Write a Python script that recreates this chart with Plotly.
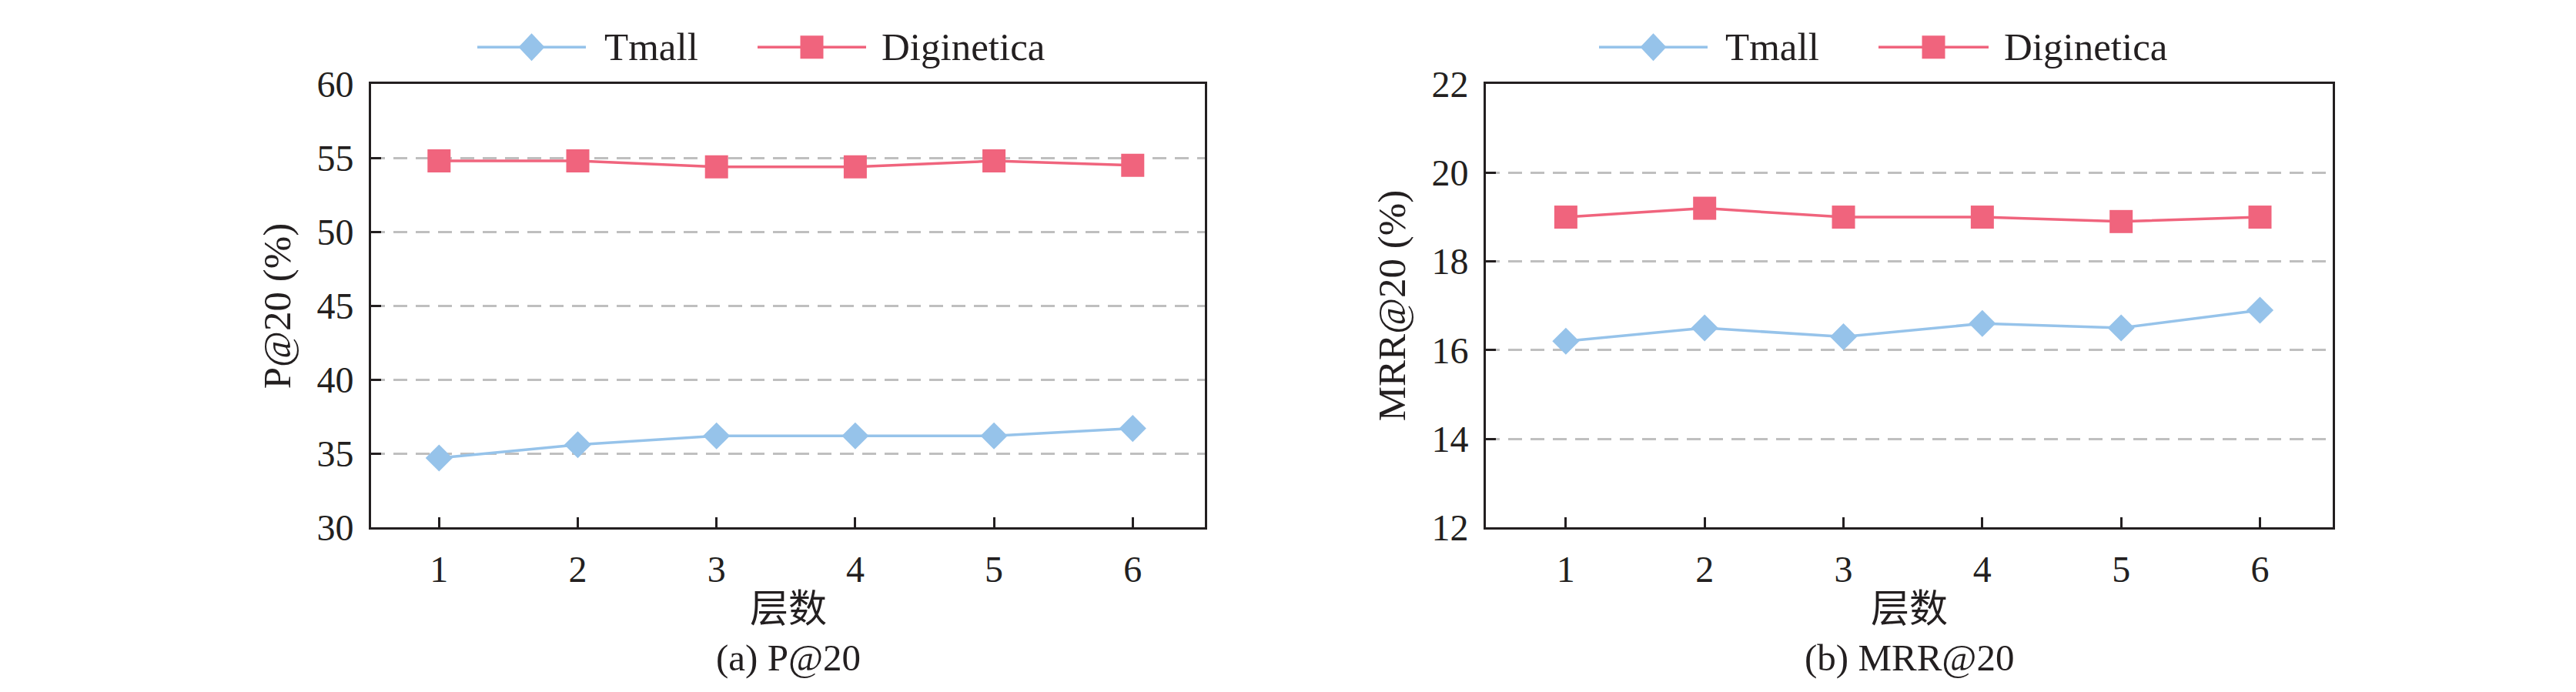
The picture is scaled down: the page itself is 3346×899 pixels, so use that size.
import plotly.graph_objects as go
from plotly.subplots import make_subplots

# layer counts on the x axis
layers = [1, 2, 3, 4, 5, 6]

# P@20 (%) per dataset
p20_tmall = [34.7, 35.6, 36.2, 36.2, 36.2, 36.7]
p20_digi = [54.8, 54.8, 54.4, 54.4, 54.8, 54.5]

# MRR@20 (%) per dataset
mrr20_tmall = [16.2, 16.5, 16.3, 16.6, 16.5, 16.9]
mrr20_digi = [19.0, 19.2, 19.0, 19.0, 18.9, 19.0]

W, H = 3346, 899
BLUE = '#96C3EA'
RED = '#F0647D'
INK = '#231F20'
SERIF = 'Liberation Serif, Times New Roman, serif'
CJK = 'Liberation Serif, Noto Sans CJK SC, serif'

fig = make_subplots(rows=1, cols=2)

panels = [
    (1, p20_tmall, p20_digi),
    (2, mrr20_tmall, mrr20_digi),
]
for col, tmall, digi in panels:
    fig.add_trace(go.Scatter(x=layers, y=tmall, mode='lines+markers', name='Tmall',
                             line=dict(color=BLUE, width=3.5),
                             marker=dict(symbol='diamond', size=27, color=BLUE),
                             showlegend=False), row=1, col=col)
    fig.add_trace(go.Scatter(x=layers, y=digi, mode='lines+markers', name='Diginetica',
                             line=dict(color=RED, width=3.5),
                             marker=dict(symbol='square', size=30, color=RED),
                             showlegend=False), row=1, col=col)

common_x = dict(tickvals=layers, ticks='inside', ticklen=13, tickwidth=3, tickcolor=INK,
                showline=True, linecolor=INK, linewidth=3, mirror=True,
                showgrid=False, zeroline=False, ticklabelstandoff=10,
                tickfont=dict(family=SERIF, size=48, color=INK))
common_y = dict(ticks='inside', ticklen=13, tickwidth=3, tickcolor=INK,
                showline=True, linecolor=INK, linewidth=3, mirror=True,
                showgrid=True, gridcolor='#BFBFBF', gridwidth=3, griddash='18px,11px',
                zeroline=False, ticklabelstandoff=10,
                tickfont=dict(family=SERIF, size=48, color=INK))

ydom = [1 - 692 / H, 1 - 80 / H]
fig.update_layout(
    xaxis=dict(common_x, domain=[474 / W, 1557 / W], range=[0.51, 6.52]),
    xaxis2=dict(common_x, domain=[1922 / W, 3022 / W], range=[0.424, 6.524]),
    yaxis=dict(common_y, domain=ydom, range=[30, 60], dtick=5),
    yaxis2=dict(common_y, domain=ydom, range=[12, 22], dtick=2),
)

# axis titles and captions
for x0, x1, ytitle, cap in [(474, 1557, 'P@20 (%)', '(a) P@20'),
                            (1922, 3022, 'MRR@20 (%)', '(b) MRR@20')]:
    cx = (x0 + x1) / 2 / W
    fig.add_annotation(x=cx, y=1 - 804 / H, xref='paper', yref='paper', text='层数',
                       xanchor='center', yanchor='middle', showarrow=False,
                       font=dict(family=CJK, size=50, color=INK))
    fig.add_annotation(x=cx, y=1 - 872 / H, xref='paper', yref='paper', text=cap,
                       xanchor='center', yanchor='middle', showarrow=False,
                       font=dict(family=SERIF, size=49, color=INK))
    fig.add_annotation(x=(x0 - 122) / W, y=1 - 386 / H, xref='paper', yref='paper', text=ytitle,
                       textangle=-90, xanchor='center', yanchor='middle', showarrow=False,
                       font=dict(family=SERIF, size=51, color=INK))

# hand-built legends above each panel (long line samples like the original)
ly = 1 - 29 / H
legend_items = [
    (612, 753, 775, BLUE, 'diamond', 'Tmall'),
    (976, 1117, 1135, RED, 'square', 'Diginetica'),
    (2069, 2210, 2231, BLUE, 'diamond', 'Tmall'),
    (2432, 2575, 2593, RED, 'square', 'Diginetica'),
]
for lx0, lx1, tx, color, sym, label in legend_items:
    fig.add_shape(type='line', xref='paper', yref='paper', x0=lx0 / W, x1=lx1 / W, y0=ly, y1=ly,
                  line=dict(color=color, width=3.5))
    mx = (lx0 + lx1) / 2 / W
    if sym == 'diamond':
        fig.add_shape(type='path', xref='paper', yref='paper', xsizemode='pixel', ysizemode='pixel',
                      xanchor=mx, yanchor=ly, path='M0,-18 L17,0 L0,18 L-17,0 Z',
                      fillcolor=color, line=dict(width=0))
    else:
        fig.add_shape(type='rect', xref='paper', yref='paper', xsizemode='pixel', ysizemode='pixel',
                      xanchor=mx, yanchor=ly, x0=-15, x1=15, y0=-15, y1=15,
                      fillcolor=color, line=dict(width=0))
    fig.add_annotation(x=tx / W, y=ly, xref='paper', yref='paper', text=label,
                       xanchor='left', yanchor='middle', showarrow=False,
                       font=dict(family=SERIF, size=51, color=INK))

fig.update_layout(
    width=W, height=H,
    margin=dict(l=0, r=0, t=0, b=0),
    plot_bgcolor='white', paper_bgcolor='white',
)

fig.write_html("out.html")
